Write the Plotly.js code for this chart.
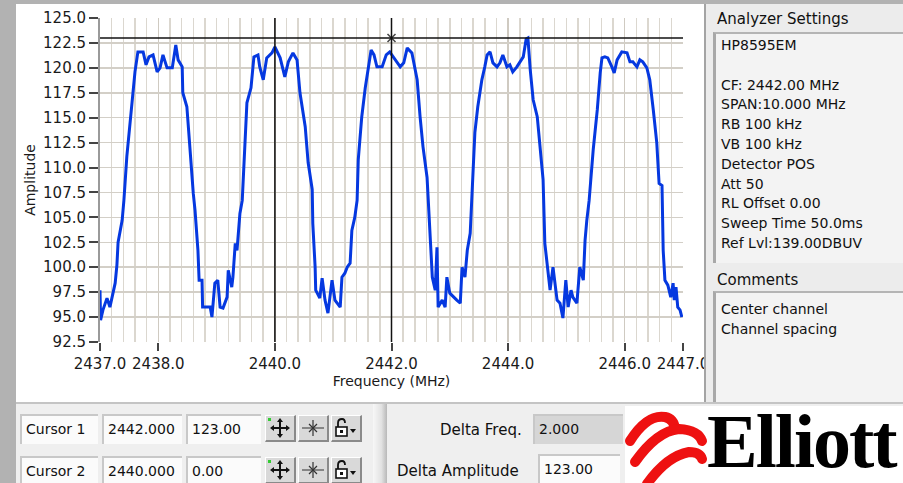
<!DOCTYPE html>
<html>
<head>
<meta charset="utf-8">
<script src="https://cdn.plot.ly/plotly-3.0.1.min.js"></script>
<style>
  html, body { margin:0; padding:0; }
  body { width:903px; height:483px; position:relative; overflow:hidden; background:#b2b2b2; font-family:"DejaVu Sans", sans-serif; color:#111; }
  #chart { position:absolute; left:16px; top:4px; width:700px; height:398px; }
  .abs { position:absolute; }
  #right { left:704px; top:4px; width:199px; height:398px; background:#ececec; border-left:2px solid #a4a4a4; box-sizing:border-box; }
  .head { position:absolute; font-size:15px; line-height:18px; color:#111; }
  .box { position:absolute; background:#f3f3f3; border-top:2px solid #b4b4b4; border-left:3px solid #a8a8a8; box-sizing:border-box; }
  .lines { position:absolute; left:5px; font-size:14px; line-height:19.8px; white-space:pre; }
  #bottom { left:16px; top:402px; width:887px; height:81px; background:#efefef; border-top:2px solid #c4c4c4; box-sizing:border-box; }
  .fld { position:absolute; height:30px; background:#fbfbfb; border-top:2px solid #c8c8c8; border-left:2px solid #c8c8c8; box-sizing:border-box; font-size:14px; line-height:27px; padding-left:4px; white-space:nowrap; overflow:hidden; }
  .btn { position:absolute; width:31px; height:27px; background:#d9d9d9; border-top:1px solid #fff; border-left:1px solid #fff; border-right:2px solid #8a8a8a; border-bottom:2px solid #8a8a8a; box-sizing:border-box; }
  .lbl { position:absolute; font-size:15px; white-space:nowrap; }
</style>
</head>
<body>
<div id="chart"></div>
<div id="right" class="abs"></div>
<div id="bottom" class="abs"></div>
<script>
// ---- data ----
const freq = [2437.00,2437.01,2437.05,2437.12,2437.17,2437.22,2437.26,2437.29,2437.31,2437.38,2437.41,2437.46,2437.52,2437.57,2437.60,2437.65,2437.74,2437.79,2437.84,2437.91,2437.98,2438.03,2438.08,2438.15,2438.24,2438.30,2438.34,2438.41,2438.42,2438.49,2438.54,2438.60,2438.63,2438.68,2438.70,2438.75,2438.76,2438.89,2438.92,2438.97,2439.02,2439.06,2439.11,2439.18,2439.20,2439.26,2439.28,2439.32,2439.35,2439.40,2439.44,2439.52,2439.59,2439.62,2439.64,2439.71,2439.74,2439.80,2439.86,2439.95,2440.00,2440.09,2440.17,2440.23,2440.31,2440.38,2440.43,2440.52,2440.57,2440.64,2440.65,2440.69,2440.70,2440.77,2440.81,2440.86,2440.91,2440.98,2441.03,2441.12,2441.15,2441.20,2441.24,2441.29,2441.32,2441.37,2441.41,2441.43,2441.49,2441.55,2441.60,2441.65,2441.70,2441.75,2441.84,2441.91,2441.97,2442.03,2442.09,2442.15,2442.21,2442.27,2442.35,2442.40,2442.44,2442.49,2442.54,2442.61,2442.63,2442.66,2442.70,2442.75,2442.78,2442.80,2442.87,2442.92,2442.95,2443.00,2443.06,2443.12,2443.18,2443.21,2443.26,2443.30,2443.35,2443.38,2443.43,2443.48,2443.55,2443.60,2443.64,2443.69,2443.74,2443.81,2443.86,2443.91,2443.98,2444.03,2444.08,2444.15,2444.20,2444.26,2444.31,2444.34,2444.38,2444.43,2444.50,2444.55,2444.60,2444.63,2444.68,2444.72,2444.77,2444.84,2444.89,2444.94,2444.99,2445.03,2445.08,2445.11,2445.18,2445.23,2445.29,2445.32,2445.35,2445.39,2445.46,2445.53,2445.58,2445.61,2445.66,2445.71,2445.78,2445.82,2445.87,2445.95,2446.04,2446.09,2446.14,2446.21,2446.26,2446.31,2446.38,2446.43,2446.49,2446.55,2446.59,2446.64,2446.66,2446.69,2446.74,2446.79,2446.83,2446.85,2446.88,2446.90,2446.91,2446.95,2446.98];
const amplitude = [97.7,94.7,95.7,96.9,96.0,97.5,98.4,100.2,102.5,104.7,106.7,111.1,115.1,118.0,119.6,121.6,121.6,120.3,121.1,121.3,119.6,120.0,121.3,120.0,120.0,122.3,120.8,120.1,117.5,116.1,111.8,107.4,105.7,101.7,98.7,98.7,96.0,96.0,95.0,98.4,98.7,96.0,95.9,97.0,99.7,98.0,99.0,102.4,101.7,105.4,106.7,116.5,118.0,120.1,121.1,121.3,120.1,118.8,121.0,121.5,122.1,121.0,119.1,120.6,121.5,120.8,117.5,114.1,110.5,107.8,104.4,100.0,97.7,96.9,98.9,96.7,95.4,98.7,96.7,96.0,99.0,99.4,100.0,100.4,103.7,105.0,106.7,110.8,115.1,118.0,119.8,121.8,121.3,120.1,120.1,121.3,121.6,121.1,120.5,120.1,120.5,122.0,121.5,120.1,118.8,115.1,112.1,109.0,106.7,102.4,99.0,97.7,102.0,96.0,96.7,96.0,99.0,97.4,97.0,96.7,96.4,100.0,99.0,101.7,103.4,106.7,113.5,116.1,118.8,120.1,121.3,121.6,120.5,120.1,120.5,121.3,120.1,120.3,119.6,120.1,120.6,121.1,122.9,123.0,119.8,116.8,115.1,111.8,108.8,102.4,100.0,97.7,100.0,96.7,96.4,94.9,98.7,96.0,97.7,97.0,96.4,100.0,98.7,102.7,104.7,106.7,111.8,115.8,119.5,121.0,121.1,121.0,120.1,119.5,120.8,121.6,121.5,120.6,120.6,120.1,120.8,120.6,120.0,118.8,115.8,112.5,108.4,108.2,101.7,98.7,98.2,97.0,98.4,96.7,98.0,97.0,96.0,95.7,95.0];

const xTickVals = [2437, 2438, 2440, 2442, 2444, 2446, 2447];
const xTickText = ['2437.0', '2438.0', '2440.0', '2442.0', '2444.0', '2446.0', '2447.0'];
const yTickVals = [92.5, 95, 97.5, 100, 102.5, 105, 107.5, 110, 112.5, 115, 117.5, 120, 122.5, 125];

const cursorNames = ['Cursor 1', 'Cursor 2'];
const cursorFreq = [2442, 2440];
const cursorAmp = [123, 0];
const cursorFreqText = ['2442.000', '2440.000'];
const cursorAmpText = ['123.00', '0.00'];
const deltaFreqText = '2.000';
const deltaAmpText = '123.00';

const settingsLines = ['HP8595EM', '', 'CF: 2442.00 MHz', 'SPAN:10.000 MHz', 'RB 100 kHz', 'VB 100 kHz', 'Detector POS', 'Att 50', 'RL Offset 0.00', 'Sweep Time 50.0ms', 'Ref Lvl:139.00DBUV'];
const commentLines = ['Center channel', 'Channel spacing'];

// ---- chart ----
const xMin = 2437, xMax = 2447, yMin = 92.5, yMax = 125;
const shapes = [];
cursorFreq.forEach(f => shapes.push({type:'line', xref:'x', yref:'paper', x0:f, x1:f, y0:0, y1:1, line:{color:'#111', width:1.5}}));
cursorAmp.forEach(a => { if (a >= yMin && a <= yMax) shapes.push({type:'line', xref:'paper', yref:'y', x0:0, x1:1, y0:a, y1:a, line:{color:'#111', width:1.5}}); });

const traces = [
  {x:freq, y:amplitude, type:'scatter', mode:'lines', line:{color:'#0538e0', width:3}, hoverinfo:'skip'},
  {x:[cursorFreq[0]], y:[cursorAmp[0]], type:'scatter', mode:'markers', marker:{symbol:'x-thin-open', size:8, color:'#444', line:{color:'#444', width:1.5}}, hoverinfo:'skip'}
];

const layout = {
  width:700, height:398,
  margin:{l:84, r:33, t:14, b:60},
  paper_bgcolor:'#ffffff', plot_bgcolor:'#ffffff',
  showlegend:false,
  font:{family:'DejaVu Sans, sans-serif', color:'#1a1a1a', size:15},
  xaxis:{
    range:[xMin, xMax], tickmode:'array', tickvals:xTickVals, ticktext:xTickText,
    ticks:'outside', ticklen:8, tickwidth:2, tickcolor:'#444', ticklabeloverflow:'allow',
    showgrid:true, gridcolor:'#cfcac1', gridwidth:1.5,
    minor:{tickmode:'linear', tick0:2437, dtick:0.2, showgrid:true, gridcolor:'#dbd7cf', gridwidth:1.5, ticks:''},
    showline:false, zeroline:false, tickfont:{size:15},
    title:{text:'Frequency (MHz)', font:{size:14}, standoff:4}
  },
  yaxis:{
    range:[yMin, yMax], tickmode:'array', tickvals:yTickVals, ticktext:yTickVals.map(v => v.toFixed(1)),
    ticks:'outside', ticklen:9, tickwidth:2, tickcolor:'#444',
    showgrid:true, gridcolor:'#d3cfc7', gridwidth:1.5,
    showline:true, linecolor:'#9a9a9a', linewidth:2, zeroline:false, tickfont:{size:15},
    title:{text:'Amplitude', font:{size:14}, standoff:4}
  },
  shapes:shapes
};
Plotly.newPlot('chart', traces, layout, {displayModeBar:false, staticPlot:true});

// ---- side panel ----
const right = document.getElementById('right');
right.innerHTML =
  '<div class="head" style="left:11px;top:6px;">Analyzer Settings</div>' +
  '<div class="box" style="left:7px;top:28px;width:192px;height:231px;"><div class="lines" style="top:2px;">' + settingsLines.join('\n') + '</div></div>' +
  '<div class="head" style="left:11px;top:267px;">Comments</div>' +
  '<div class="box" style="left:7px;top:287px;width:192px;height:111px;"><div class="lines" style="top:7px;">' + commentLines.join('\n') + '</div></div>';

// ---- bottom panel ----
const moveIcon = '<svg width="28" height="24" viewBox="0 0 28 24"><rect x="2" y="2" width="3" height="3" fill="#3c3"/><path d="M14 4 L14 20 M6 12 L22 12" stroke="#111" stroke-width="2"/><path d="M14 2 L11 6 L17 6 Z M14 22 L11 18 L17 18 Z M4 12 L8 9 L8 15 Z M24 12 L20 9 L20 15 Z" fill="#111"/></svg>';
const crossIcon = '<svg width="28" height="24" viewBox="0 0 28 24"><path d="M3 12 L25 12 M14 4 L14 20" stroke="#333" stroke-width="1.2"/><path d="M10 8 L18 16 M18 8 L10 16" stroke="#333" stroke-width="1.2"/></svg>';
const lockIcon = '<svg width="28" height="24" viewBox="0 0 28 24"><path d="M6 11 L6 7 Q6 3 10 3 Q13 3 13 7" stroke="#111" stroke-width="1.8" fill="none"/><rect x="4" y="11" width="11" height="9" fill="#fff" stroke="#111" stroke-width="1.6"/><rect x="8" y="14" width="3" height="3" fill="#111"/><path d="M18 13 L24 13 L21 17 Z" fill="#111"/></svg>';

let html = '';
cursorNames.forEach((name, i) => {
  const top = 10 + i * 42;
  html += '<div class="fld" style="left:4px;top:' + top + 'px;width:78px;">' + name + '</div>';
  html += '<div class="fld" style="left:86px;top:' + top + 'px;width:80px;">' + cursorFreqText[i] + '</div>';
  html += '<div class="fld" style="left:170px;top:' + top + 'px;width:75px;">' + cursorAmpText[i] + '</div>';
  html += '<div class="btn" style="left:249px;top:' + (top + 1) + 'px;">' + moveIcon + '</div>';
  html += '<div class="btn" style="left:282px;top:' + (top + 1) + 'px;">' + crossIcon + '</div>';
  html += '<div class="btn" style="left:315px;top:' + (top + 1) + 'px;">' + lockIcon + '</div>';
});
// raised separator
html += '<div class="abs" style="left:357px;top:0;width:14px;height:81px;background:linear-gradient(90deg,#f7f7f7,#e2e2e2 60%,#b8b8b8);"></div>';
// delta fields
html += '<div class="lbl" style="left:424px;top:17px;">Delta Freq.</div>';
html += '<div class="fld" style="left:517px;top:10px;width:90px;background:#d6d6d6;">' + deltaFreqText + '</div>';
html += '<div class="lbl" style="left:381px;top:58px;">Delta Amplitude</div>';
html += '<div class="fld" style="left:522px;top:50px;width:82px;">' + deltaAmpText + '</div>';
// logo
html += '<div class="abs" style="left:609px;top:2px;width:278px;height:77px;background:#ffffff;"></div>';
html += '<svg class="abs" style="left:604px;top:-4px;" width="104" height="85" viewBox="0 0 104 85">' +
  '<path d="M10 41 Q27 14 45 17 Q54 19 55 29" stroke="#ee1111" stroke-width="10" fill="none" stroke-linecap="round"/>' +
  '<path d="M15 62 Q37 31 59 29 Q78 30 82 41" stroke="#ee1111" stroke-width="10" fill="none" stroke-linecap="round"/>' +
  '<path d="M27 84 Q47 56 69 52 Q80 52 82 59" stroke="#ee1111" stroke-width="10" fill="none" stroke-linecap="round"/>' +
  '</svg>';
html += '<div class="abs" style="left:691px;top:-6px;font-family:\'Liberation Serif\',serif;font-weight:bold;font-size:76px;line-height:normal;letter-spacing:-2px;color:#000;white-space:nowrap;">Elliott</div>';
document.getElementById('bottom').innerHTML = html;
</script>
</body>
</html>
